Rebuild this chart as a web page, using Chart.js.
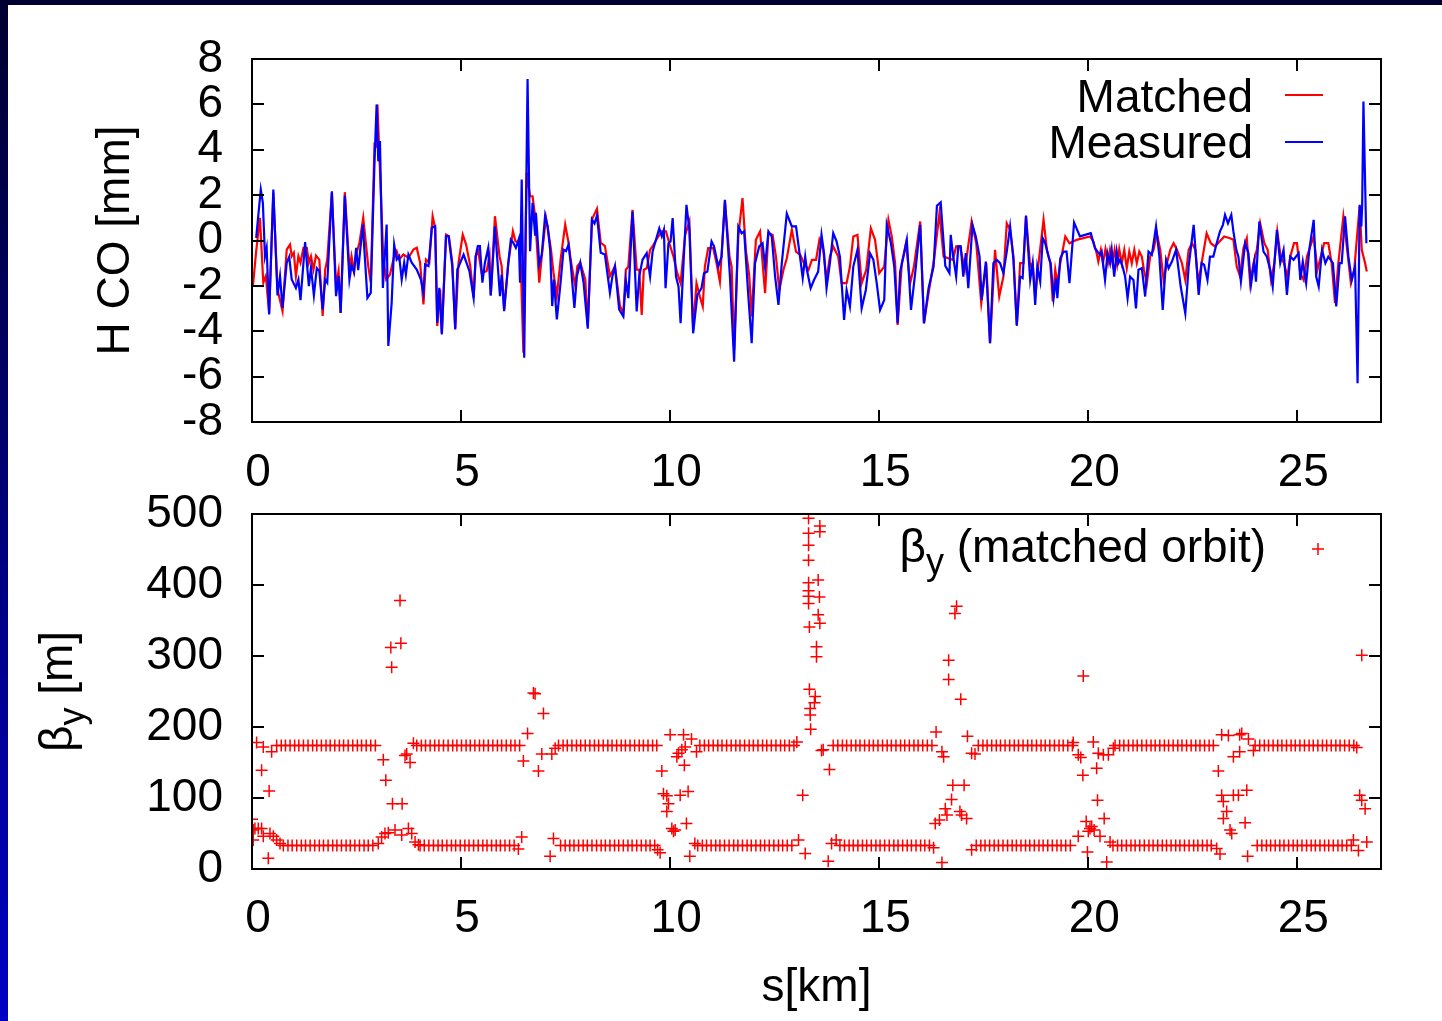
<!DOCTYPE html>
<html>
<head>
<meta charset="utf-8">
<title>Closed orbit and vertical beta function</title>
<script src="https://cdn.jsdelivr.net/npm/chart.js@4.4.0/dist/chart.umd.min.js"></script>
<style>
  html, body { margin: 0; padding: 0; }
  body {
    width: 1442px; height: 1021px; overflow: hidden; position: relative;
    background: linear-gradient(to bottom, #000030 0%, #000070 45%, #0000c4 100%);
  }
  #sheet { position: absolute; left: 8px; top: 5px; right: 0; bottom: 0; background: #fff; }
  canvas { position: absolute; left: 0; }
  #orbitChart { top: 0; }
  #betaChart { top: 450px; }
</style>
</head>
<body>
<div id="sheet"></div>
<canvas id="orbitChart" width="1442" height="500"></canvas>
<canvas id="betaChart" width="1442" height="571"></canvas>
<script>
// Horizontal closed orbit [s (km), CO (mm)]
const matchedOrbit = [
  [0.02,-2.04],[0.10,-0.47],[0.19,1.00],[0.27,-1.86],[0.33,-1.57],[0.41,-3.19],[0.51,2.10],[0.61,-2.16],[0.73,-3.11],[0.83,-0.40],
  [0.91,-0.18],[0.95,-0.69],[1.00,-0.54],[1.05,-1.57],[1.11,-0.69],[1.16,-0.98],[1.23,-0.32],[1.31,-0.32],[1.36,-0.98],[1.41,-0.69],
  [1.47,-1.28],[1.53,-0.66],[1.61,-0.84],[1.69,-3.33],[1.75,-1.28],[1.80,-0.84],[1.91,2.10],[2.01,-2.01],[2.07,-1.35],[2.12,-3.19],
  [2.22,2.13],[2.33,-1.28],[2.38,-0.69],[2.44,-1.35],[2.49,-0.62],[2.57,-0.10],[2.66,1.00],[2.78,-1.13],[2.84,-1.86],[2.93,4.23],
  [2.97,4.16],[3.00,5.99],[3.05,3.57],[3.14,-0.76],[3.21,-1.72],[3.30,-1.50],[3.40,-0.69],[3.46,-0.47],[3.52,-0.84],[3.62,-0.62],
  [3.74,-0.76],[3.86,-0.40],[3.94,-0.32],[4.02,-0.98],[4.10,-2.82],[4.16,-0.84],[4.24,-0.98],[4.32,1.07],[4.38,0.56],[4.43,-3.77],
  [4.50,-2.16],[4.54,-4.07],[4.64,0.26],[4.71,0.19],[4.79,-0.98],[4.86,-3.85],[4.94,-0.98],[5.04,0.26],[5.12,-0.18],[5.22,-1.13],
  [5.30,-2.53],[5.35,-0.69],[5.41,-0.47],[5.49,-1.42],[5.61,-1.35],[5.68,-0.69],[5.71,-2.42],[5.81,1.07],[5.92,-0.69],[5.97,-1.13],
  [6.03,-3.04],[6.13,-0.98],[6.24,0.41],[6.30,-0.03],[6.38,-0.10],[6.43,-1.13],[6.49,-4.95],[6.57,3.00],[6.65,1.95],[6.71,1.95],
  [6.77,1.07],[6.87,-1.86],[6.93,-0.69],[7.03,1.00],[7.09,0.34],[7.15,-0.40],[7.21,-1.42],[7.29,-2.45],[7.38,-0.84],[7.49,0.70],
  [7.57,-0.10],[7.62,-0.84],[7.73,-2.01],[7.78,-1.13],[7.85,-0.98],[7.97,-1.72],[8.03,-3.77],[8.13,0.93],[8.25,1.40],[8.34,-0.10],
  [8.44,-0.25],[8.56,-1.57],[8.68,-1.13],[8.80,-2.89],[8.88,-3.21],[8.94,-1.29],[9.00,-1.15],[9.10,1.35],[9.20,-1.29],[9.26,-1.29],
  [9.32,-3.28],[9.37,-1.29],[9.44,-1.22],[9.52,-0.41],[9.60,-0.19],[9.69,0.10],[9.80,0.40],[9.90,0.40],[9.98,-0.12],[10.08,-0.71],
  [10.17,-1.44],[10.25,-1.88],[10.36,0.25],[10.46,0.84],[10.55,-3.94],[10.63,-1.88],[10.71,-2.47],[10.78,-2.91],[10.83,-1.15],[10.91,-0.34],
  [11.03,-0.34],[11.11,-1.00],[11.19,-1.81],[11.31,1.72],[11.42,-0.71],[11.47,-1.15],[11.53,-4.82],[11.63,0.18],[11.73,1.87],[11.81,-0.41],
  [11.89,-1.51],[11.95,-3.35],[12.05,0.03],[12.15,0.40],[12.27,-2.32],[12.35,0.32],[12.45,0.25],[12.53,-0.71],[12.61,-2.18],[12.71,-1.29],
  [12.79,-0.78],[12.91,0.47],[13.01,-0.49],[13.11,-0.63],[13.20,-1.00],[13.31,-1.29],[13.39,-0.85],[13.49,-0.85],[13.57,0.03],[13.66,-0.41],
  [13.74,-1.74],[13.82,-0.71],[13.90,-0.26],[14.02,-0.71],[14.10,-1.88],[14.22,-1.88],[14.30,-1.15],[14.38,0.18],[14.48,0.25],[14.58,-1.88],
  [14.69,-1.29],[14.80,0.54],[14.90,0.03],[15.00,-1.44],[15.12,-1.15],[15.22,0.91],[15.30,0.18],[15.38,-1.00],[15.44,-3.72],[15.54,-1.00],
  [15.64,-0.12],[15.74,-1.88],[15.83,-1.15],[15.98,0.84],[16.07,-3.65],[16.18,-2.32],[16.31,-0.85],[16.44,1.21],[16.54,-0.71],[16.65,-0.78],
  [16.76,-0.85],[16.84,-0.26],[16.93,-0.26],[17.05,-1.29],[17.21,0.84],[17.32,-0.12],[17.44,-2.76],[17.56,-1.00],[17.65,-4.53],[17.77,-0.41],
  [17.87,-2.47],[17.97,-1.59],[18.05,0.76],[18.13,0.47],[18.21,-0.71],[18.29,-3.72],[18.37,-1.00],[18.45,-1.00],[18.51,1.06],[18.61,-1.15],
  [18.67,-1.00],[18.73,-2.47],[18.81,-1.00],[18.93,0.91],[19.01,-0.41],[19.09,-1.00],[19.15,-2.69],[19.21,-1.29],[19.26,-1.88],[19.33,-1.00],
  [19.45,0.18],[19.55,-0.12],[19.72,0.03],[20.04,0.18],[20.12,-0.04],[20.20,-0.56],[20.24,-0.93],[20.30,-0.41],[20.35,-1.00],[20.41,-0.38],
  [20.47,-1.00],[20.52,-0.41],[20.58,-1.00],[20.63,-0.41],[20.69,-1.07],[20.74,-0.38],[20.80,-1.00],[20.86,-0.41],[20.92,-1.22],[20.98,-0.49],
  [21.04,-1.00],[21.10,-0.41],[21.16,-1.00],[21.22,-0.49],[21.28,-0.71],[21.33,-1.29],[21.40,-1.88],[21.48,-0.71],[21.56,-0.41],[21.64,0.32],
  [21.72,-0.41],[21.80,-1.74],[21.88,-1.00],[21.96,-0.41],[22.04,-0.12],[22.12,-0.41],[22.24,-1.00],[22.32,-1.74],[22.40,-0.41],[22.48,-0.12],
  [22.56,-0.41],[22.63,-1.88],[22.71,-1.00],[22.83,0.32],[22.93,-0.12],[23.03,-0.26],[23.14,-0.04],[23.25,0.18],[23.39,0.10],[23.47,0.03],
  [23.55,-1.15],[23.63,-1.59],[23.71,-0.34],[23.79,0.10],[23.87,-1.88],[23.95,-1.00],[24.03,-0.41],[24.11,0.76],[24.21,-0.12],[24.29,-0.41],
  [24.37,-1.74],[24.45,-1.00],[24.52,0.40],[24.60,-0.71],[24.68,-1.00],[24.76,-1.59],[24.83,-0.71],[24.92,-0.12],[24.99,-0.12],[25.07,-1.44],
  [25.15,-1.74],[25.23,-0.71],[25.31,-0.26],[25.39,0.18],[25.48,-1.29],[25.56,-0.71],[25.64,-0.12],[25.74,-0.12],[25.82,-1.00],[25.90,-2.76],
  [25.98,-1.00],[26.10,1.06],[26.20,-0.56],[26.28,-1.88],[26.36,-1.29],[26.44,0.47],[26.49,1.50],[26.54,-0.41],[26.58,-0.71],[26.62,-1.00],
  [26.66,-1.37]
];

const measuredOrbit = [
  [0.10,0.12],[0.21,2.25],[0.26,1.66],[0.31,-0.69],[0.35,-0.32],[0.41,-3.26],[0.51,2.25],[0.61,-2.42],[0.67,-1.57],[0.73,-2.97],
  [0.83,-0.98],[0.89,-0.72],[0.95,-1.72],[1.05,-2.09],[1.11,-1.72],[1.16,-2.63],[1.27,-0.07],[1.36,-2.01],[1.41,-1.20],[1.48,-2.42],
  [1.55,-1.22],[1.61,-1.35],[1.69,-3.04],[1.75,-1.72],[1.80,-1.86],[1.91,2.17],[2.01,-2.45],[2.07,-1.57],[2.12,-3.19],[2.22,1.98],
  [2.33,-1.72],[2.38,-1.10],[2.44,-1.40],[2.49,-0.32],[2.54,-1.31],[2.65,0.70],[2.76,-2.53],[2.84,-2.31],[2.93,3.49],[2.98,5.99],
  [3.02,3.49],[3.06,4.38],[3.13,-2.09],[3.22,0.70],[3.26,-4.65],[3.34,-2.75],[3.40,-0.18],[3.46,-0.84],[3.52,-0.69],[3.58,-1.72],
  [3.64,-0.98],[3.68,-1.50],[3.74,-0.62],[3.82,-0.98],[3.94,-1.28],[4.04,-1.72],[4.10,-2.31],[4.14,-1.06],[4.22,-1.13],[4.30,0.56],
  [4.38,0.63],[4.43,-3.63],[4.48,-2.09],[4.54,-4.14],[4.64,0.19],[4.70,0.19],[4.79,-1.13],[4.86,-3.92],[4.91,-1.28],[4.98,-0.98],
  [5.06,-0.62],[5.20,-1.35],[5.30,-2.53],[5.35,-0.69],[5.40,-0.25],[5.45,-0.25],[5.51,-1.86],[5.57,-0.98],[5.65,-0.32],[5.71,-2.42],
  [5.81,0.63],[5.93,-2.45],[5.97,-1.50],[6.03,-3.11],[6.13,-0.98],[6.19,0.04],[6.25,-0.10],[6.31,-0.32],[6.38,0.07],[6.41,-1.86],
  [6.45,2.69],[6.51,-5.17],[6.59,7.12],[6.65,-0.47],[6.71,1.66],[6.77,0.26],[6.79,1.22],[6.87,-1.06],[6.93,-0.62],[7.01,1.10],
  [7.07,0.63],[7.13,-0.40],[7.18,-2.89],[7.22,-1.72],[7.29,-3.48],[7.38,-1.86],[7.45,-0.40],[7.51,-0.47],[7.57,-0.18],[7.62,-0.98],
  [7.71,-2.97],[7.77,-1.57],[7.85,-0.98],[7.93,-1.86],[8.03,-3.89],[8.13,0.93],[8.19,0.75],[8.25,1.10],[8.34,-0.54],[8.44,-0.62],
  [8.56,-2.31],[8.62,-1.57],[8.68,-1.13],[8.78,-3.04],[8.88,-3.35],[8.94,-1.74],[9.00,-2.54],[9.10,1.28],[9.20,-3.13],[9.26,-1.59],
  [9.34,-0.85],[9.44,-0.56],[9.52,-1.59],[9.58,-0.49],[9.66,0.03],[9.74,0.54],[9.80,0.18],[9.85,0.47],[9.89,-2.10],[9.96,-0.12],
  [10.01,-0.04],[10.06,0.99],[10.14,-1.59],[10.20,-2.03],[10.25,-3.65],[10.32,-1.00],[10.39,1.57],[10.46,0.47],[10.55,-4.09],[10.65,-2.40],
  [10.75,-2.10],[10.81,-1.44],[10.89,-1.37],[10.99,-0.04],[11.05,-0.26],[11.15,-1.15],[11.23,-0.71],[11.31,1.79],[11.43,-1.59],[11.53,-5.34],
  [11.63,0.62],[11.71,0.32],[11.77,0.40],[11.87,-2.47],[11.95,-4.53],[12.03,-1.00],[12.13,-0.26],[12.21,-0.12],[12.27,-1.15],[12.35,0.40],
  [12.43,0.18],[12.51,-1.59],[12.59,-2.84],[12.67,-1.00],[12.79,1.18],[12.91,0.62],[13.01,0.62],[13.11,-0.78],[13.17,-1.66],[13.23,-0.71],
  [13.27,-1.29],[13.36,-2.10],[13.44,-1.74],[13.54,-1.37],[13.62,0.25],[13.68,-0.56],[13.74,-2.10],[13.82,-1.00],[13.90,0.32],[13.98,-0.04],
  [14.06,-0.71],[14.16,-3.50],[14.22,-2.18],[14.30,-2.91],[14.38,-1.15],[14.48,-0.41],[14.58,-2.99],[14.68,-2.18],[14.78,-0.56],[14.86,-0.85],
  [14.94,-1.88],[15.02,-3.06],[15.12,-2.62],[15.18,0.69],[15.28,-0.12],[15.36,-1.15],[15.44,-3.65],[15.50,-1.37],[15.58,-0.71],[15.66,0.03],
  [15.76,-3.06],[15.86,-1.44],[15.98,0.69],[16.07,-3.65],[16.18,-2.10],[16.30,-1.15],[16.38,1.53],[16.47,1.68],[16.58,-1.12],[16.68,-1.44],
  [16.71,0.25],[16.77,-0.71],[16.84,-1.59],[16.89,-0.26],[16.95,-0.26],[17.01,-1.59],[17.07,-0.56],[17.13,-2.10],[17.23,0.69],[17.31,0.18],
  [17.40,-0.71],[17.45,-2.62],[17.55,-0.93],[17.65,-4.53],[17.73,-1.00],[17.81,-0.85],[17.89,-1.00],[17.97,-1.44],[18.05,-0.49],[18.13,0.62],
  [18.21,-0.85],[18.29,-3.76],[18.37,-1.59],[18.43,-1.66],[18.51,1.10],[18.61,-1.74],[18.67,-1.00],[18.73,-2.84],[18.78,-1.15],[18.85,-1.81],
  [18.91,0.10],[18.97,-0.12],[19.05,-0.71],[19.10,-1.00],[19.17,-2.54],[19.23,-1.66],[19.26,-2.54],[19.33,-0.78],[19.41,-0.49],[19.48,-0.49],
  [19.55,-1.88],[19.66,0.79],[19.80,0.18],[20.06,0.32],[20.16,-0.34],[20.22,-0.49],[20.28,-0.63],[20.32,-0.49],[20.40,-1.74],[20.46,-0.56],
  [20.52,-1.00],[20.56,-0.41],[20.62,-1.59],[20.68,-0.49],[20.72,-1.00],[20.76,-0.85],[20.82,-1.15],[20.88,-1.59],[20.94,-2.54],[21.00,-1.59],
  [21.08,-1.74],[21.14,-2.99],[21.20,-1.29],[21.28,-1.22],[21.36,-2.47],[21.44,-0.49],[21.52,-0.63],[21.62,0.62],[21.70,-0.71],[21.78,-3.06],
  [21.86,-0.85],[21.92,-1.22],[22.00,-0.93],[22.10,-0.41],[22.21,-2.03],[22.32,-3.21],[22.40,-1.15],[22.52,0.69],[22.64,-2.40],[22.71,-1.00],
  [22.77,-1.07],[22.85,-1.74],[22.91,-0.71],[22.99,-0.71],[23.07,-0.12],[23.15,0.40],[23.22,0.69],[23.27,1.13],[23.34,0.76],[23.42,1.13],
  [23.47,0.40],[23.54,-0.41],[23.59,-0.71],[23.65,-1.81],[23.75,-0.12],[23.83,-0.56],[23.89,-1.96],[23.97,-0.93],[24.01,-1.81],[24.09,0.84],
  [24.19,-0.49],[24.27,-0.71],[24.35,-1.29],[24.41,-2.03],[24.51,0.47],[24.59,-1.00],[24.67,-0.41],[24.75,-2.40],[24.83,-0.71],[24.91,-0.85],
  [25.03,-0.56],[25.07,-1.74],[25.13,-0.93],[25.21,-1.88],[25.29,-0.34],[25.39,0.91],[25.45,-1.59],[25.51,-2.03],[25.59,-0.41],[25.67,-1.00],
  [25.74,-0.71],[25.85,-1.00],[25.93,-2.91],[26.01,-1.00],[26.06,-1.00],[26.14,1.06],[26.22,-0.71],[26.30,-1.74],[26.38,-1.15],[26.44,-6.29],
  [26.49,1.57],[26.53,0.62],[26.55,1.57],[26.58,6.13],[26.65,-0.12]
];

// Vertical beta function: arc BPMs sit on two flat levels (km positions)
const arcHighS = [
  0.59,0.70,0.80,0.91,1.02,1.12,1.23,1.34,1.45,1.55,1.66,1.77,1.87,1.98,2.09,2.19,2.30,2.41,2.52,2.62,2.73,2.84,2.95,
  3.94,4.05,4.15,4.26,4.37,4.47,4.58,4.69,4.80,4.90,5.01,5.12,5.22,5.33,5.44,5.54,5.65,5.76,5.87,5.97,6.08,6.19,6.29,6.40,
  7.33,7.44,7.54,7.65,7.76,7.86,7.97,8.08,8.19,8.29,8.40,8.51,8.61,8.72,8.83,8.93,9.04,9.15,9.26,9.36,9.47,9.58,9.68,
  10.71,10.82,10.92,11.03,11.14,11.24,11.35,11.46,11.57,11.67,11.78,11.89,11.99,12.10,12.21,12.31,12.42,12.53,12.64,12.74,12.85,12.96,
  13.90,14.01,14.12,14.22,14.33,14.44,14.54,14.65,14.76,14.86,14.97,15.08,15.19,15.29,15.40,15.51,15.61,15.72,15.83,15.93,16.04,16.15,16.26,
  17.37,17.48,17.58,17.69,17.80,17.90,18.01,18.12,18.23,18.33,18.44,18.55,18.65,18.76,18.87,18.97,19.08,19.19,19.30,19.40,19.51,19.62,
  20.64,20.75,20.85,20.96,21.07,21.17,21.28,21.39,21.50,21.60,21.71,21.82,21.92,22.03,22.14,22.24,22.35,22.46,22.57,22.67,22.78,22.89,22.99,
  23.99,24.10,24.21,24.31,24.42,24.53,24.63,24.74,24.85,24.95,25.06,25.17,25.28,25.38,25.49,25.60,25.70,25.81,25.92,26.02,26.13,26.24,26.35
];
const arcLowS = [
  0.75,0.86,0.96,1.07,1.18,1.28,1.39,1.50,1.61,1.71,1.82,1.93,2.03,2.14,2.25,2.35,2.46,2.57,2.68,2.78,2.89,
  4.02,4.12,4.23,4.34,4.45,4.55,4.66,4.77,4.87,4.98,5.09,5.19,5.30,5.41,5.52,5.62,5.73,5.84,5.94,6.05,6.16,6.27,
  7.38,7.49,7.60,7.70,7.81,7.92,8.02,8.13,8.24,8.35,8.45,8.56,8.67,8.77,8.88,8.99,9.09,9.20,9.31,9.42,9.52,9.63,
  10.66,10.77,10.87,10.98,11.09,11.19,11.30,11.41,11.52,11.62,11.73,11.84,11.94,12.05,12.16,12.26,12.37,12.48,12.59,12.69,12.80,12.91,
  14.06,14.17,14.28,14.38,14.49,14.60,14.70,14.81,14.92,15.02,15.13,15.24,15.35,15.45,15.56,15.67,15.77,15.88,15.99,16.09,16.20,
  17.32,17.43,17.53,17.64,17.75,17.85,17.96,18.07,18.18,18.28,18.39,18.50,18.60,18.71,18.82,18.92,19.03,19.14,19.25,19.35,19.46,19.57,
  20.59,20.70,20.80,20.91,21.02,21.12,21.23,21.34,21.45,21.55,21.66,21.77,21.87,21.98,22.09,22.19,22.30,22.41,22.52,22.62,22.73,22.84,22.94,
  24.04,24.15,24.26,24.36,24.47,24.58,24.68,24.79,24.90,25.00,25.11,25.22,25.33,25.43,25.54,25.65,25.75,25.86,25.97,26.07,26.18,26.29
];
const betaArcHigh = 174;
const betaArcLow = 33;

// BPMs in the straight sections [s (km), beta_y (m)]
const insertionBeta = [
  [0.00,70],[0.03,55],[0.07,57],[0.15,57],[0.23,57],[0.03,41],[0.27,46],[0.39,15],[0.43,50],[0.51,46],[0.59,41],[0.67,36],
  [0.11,178],[0.27,172],[0.47,165],[0.23,139],[0.41,110],
  [3.02,36],[3.10,45],[3.18,50],[3.26,51],[3.42,55],[3.58,48],[3.74,57],[3.82,50],[3.90,38],[3.98,34],
  [3.14,154],[3.20,125],[3.32,312],[3.34,284],[3.54,378],[3.56,318],[3.36,92],[3.59,92],[3.66,160],[3.70,162],[3.78,150],[3.86,177],
  [6.37,28],[6.45,45],[6.49,152],[6.59,191],[6.73,248],[6.77,247],[6.97,219],[6.85,138],[6.93,162],[7.13,18],[7.17,162],[7.21,43],[7.25,170],
  [9.70,27],[9.76,23],[9.80,138],[9.84,106],[9.92,103],[9.96,92],[9.92,81],[10.00,189],[10.04,57],[10.08,53],[10.12,55],[10.16,158],
  [10.20,163],[10.24,104],[10.28,168],[10.32,189],[10.34,146],[10.36,172],[10.39,64],[10.43,109],[10.47,18],[10.51,183],[10.59,36],[10.63,165],
  [13.03,179],[13.07,41],[13.17,104],[13.23,22],[13.31,494],[13.31,473],[13.31,456],[13.31,435],[13.58,483],[13.58,475],[13.31,403],
  [13.31,392],[13.31,384],[13.31,374],[13.54,407],[13.57,383],[13.54,358],[13.58,346],[13.33,341],[13.50,313],[13.50,299],[13.33,253],
  [13.47,243],[13.45,234],[13.35,226],[13.35,217],[13.36,197],[13.62,167],[13.66,168],[13.81,140],[13.78,11],[13.86,36],[13.97,41],
  [16.30,30],[16.34,64],[16.36,193],[16.44,69],[16.50,9],[16.50,165],[16.54,158],[16.58,85],[16.62,76],[16.66,294],[16.66,267],[16.73,98],
  [16.76,118],[16.81,360],[16.85,370],[16.93,81],[16.95,239],[16.97,76],[17.03,118],[17.09,71],[17.11,187],[17.21,163],[17.21,27],[17.29,162],
  [19.64,178],[19.76,161],[19.76,46],[19.82,157],[19.87,132],[19.88,272],[19.95,67],[19.98,24],[20.00,53],[20.04,57],[20.08,60],[20.12,179],
  [20.14,55],[20.20,142],[20.22,97],[20.24,163],[20.28,46],[20.36,161],[20.38,71],[20.44,10],[20.48,161],[20.52,38],[20.60,170],
  [23.07,29],[23.11,138],[23.15,21],[23.19,104],[23.19,189],[23.23,95],[23.23,71],[23.31,81],[23.35,188],[23.39,55],[23.43,50],[23.47,158],
  [23.47,104],[23.59,104],[23.62,189],[23.62,165],[23.67,191],[23.75,65],[23.79,111],[23.81,18],[23.83,183],[23.95,167],
  [26.34,41],[26.42,171],[26.46,26],[26.49,104],[26.54,97],[26.54,301],[26.62,85],[26.66,38]
];

// Tick values
const sTicks = [0, 5, 10, 15, 20, 25];
const coTicks = [-8, -6, -4, -2, 0, 2, 4, 6, 8];
const betaTicks = [0, 100, 200, 300, 400, 500];

const FONT = "'Liberation Sans', Arial, Helvetica, sans-serif";
const tickFont = { family: FONT, size: 46 };
const MARK_R = 6;

// gnuplot-like box: border plus inward ticks mirrored on all four sides
const boxFrame = {
    id: 'boxFrame',
    afterDatasetsDraw(chart) {
        const { ctx, chartArea: a, scales: { x, y } } = chart;
        const len = 12;
        ctx.save();
        ctx.strokeStyle = '#000';
        ctx.lineWidth = 2;
        ctx.beginPath();
        x.ticks.forEach(t => {
            const px = Math.round(x.getPixelForValue(t.value));
            ctx.moveTo(px, a.bottom); ctx.lineTo(px, a.bottom - len);
            ctx.moveTo(px, a.top); ctx.lineTo(px, a.top + len);
        });
        y.ticks.forEach(t => {
            const py = Math.round(y.getPixelForValue(t.value));
            ctx.moveTo(a.left, py); ctx.lineTo(a.left + len, py);
            ctx.moveTo(a.right, py); ctx.lineTo(a.right - len, py);
        });
        ctx.stroke();
        ctx.strokeRect(a.left, a.top, a.right - a.left, a.bottom - a.top);
        ctx.restore();
    }
};

// Draws "β" with a subscript "y" followed by the rest of the label
function drawBetaText(ctx, x0, base, rest) {
    ctx.font = `46px ${FONT}`;
    const wb = ctx.measureText('β').width;
    const wr = ctx.measureText(rest).width;
    ctx.font = `36px ${FONT}`;
    const wy = ctx.measureText('y').width;
    const total = wb + wy + wr;
    const start = x0 === null ? -total / 2 : x0 - total;
    ctx.textAlign = 'left';
    ctx.textBaseline = 'alphabetic';
    ctx.fillStyle = '#000';
    ctx.font = `46px ${FONT}`;
    ctx.fillText('β', start, base);
    ctx.font = `36px ${FONT}`;
    ctx.fillText('y', start + wb, base + 12);
    ctx.font = `46px ${FONT}`;
    ctx.fillText(rest, start + wb + wy, base);
}

function drawPlus(ctx, x, y, r) {
    ctx.beginPath();
    ctx.moveTo(x - r, y); ctx.lineTo(x + r, y);
    ctx.moveTo(x, y - r); ctx.lineTo(x, y + r);
    ctx.stroke();
}

const orbitLegend = {
    id: 'orbitLegend',
    afterDraw(chart) {
        const ctx = chart.ctx;
        const rows = [
            { text: 'Matched', color: '#ff0000', base: 112, lineY: 95 },
            { text: 'Measured', color: '#0000ff', base: 158, lineY: 142 }
        ];
        ctx.save();
        ctx.font = `46px ${FONT}`;
        ctx.textAlign = 'right';
        ctx.textBaseline = 'alphabetic';
        rows.forEach(r => {
            ctx.fillStyle = '#000';
            ctx.fillText(r.text, 1253, r.base);
            ctx.strokeStyle = r.color;
            ctx.lineWidth = 2;
            ctx.beginPath();
            ctx.moveTo(1285, r.lineY);
            ctx.lineTo(1323, r.lineY);
            ctx.stroke();
        });
        ctx.restore();
    }
};

const betaDecor = {
    id: 'betaDecor',
    afterDraw(chart) {
        const { ctx, chartArea: a } = chart;
        ctx.save();
        // legend entry
        drawBetaText(ctx, 1266, 112, ' (matched orbit)');
        ctx.strokeStyle = '#ff0000';
        ctx.lineWidth = 1.5;
        drawPlus(ctx, 1318, 99, MARK_R);
        // rotated y-axis title
        ctx.translate(72, (a.top + a.bottom) / 2);
        ctx.rotate(-Math.PI / 2);
        drawBetaText(ctx, null, 0, ' [m]');
        ctx.restore();
    }
};

function sAxis(labelPad, height, title) {
    return {
        type: 'linear',
        min: 0,
        max: 27,
        afterBuildTicks: s => { s.ticks = sTicks.map(v => ({ value: v })); },
        afterFit: s => { s.height = height; },
        grid: { display: false, drawTicks: false },
        border: { display: false },
        ticks: { font: tickFont, color: '#000', padding: labelPad, labelOffset: 6, maxRotation: 0, autoSkip: false },
        title: title
    };
}

function valueAxis(min, max, tickValues, title) {
    return {
        min: min,
        max: max,
        afterBuildTicks: s => { s.ticks = tickValues.map(v => ({ value: v })); },
        afterFit: s => { s.width = 252; },
        grid: { display: false, drawTicks: false },
        border: { display: false },
        ticks: { font: tickFont, color: '#000', padding: 29, autoSkip: false },
        title: title
    };
}

new Chart(document.getElementById('orbitChart'), {
    type: 'line',
    data: {
        datasets: [
            {
                label: 'Matched',
                data: matchedOrbit.map(p => ({ x: p[0], y: p[1] })),
                borderColor: '#ff0000',
                borderWidth: 2.2,
                pointRadius: 0,
                tension: 0,
                order: 1
            },
            {
                label: 'Measured',
                data: measuredOrbit.map(p => ({ x: p[0], y: p[1] })),
                borderColor: '#0000ff',
                borderWidth: 2.2,
                pointRadius: 0,
                tension: 0,
                order: 0
            }
        ]
    },
    options: {
        responsive: false,
        animation: false,
        layout: { padding: { left: 0, top: 59, right: 61, bottom: 0 } },
        plugins: { legend: { display: false }, tooltip: { enabled: false } },
        scales: {
            x: sAxis(24, 78, { display: false }),
            y: valueAxis(-8, 8, coTicks, {
                display: true,
                text: 'H CO [mm]',
                color: '#000',
                font: { family: FONT, size: 46 },
                padding: { top: 89, bottom: 0 }
            })
        }
    },
    plugins: [boxFrame, orbitLegend]
});

const betaPoints = arcHighS.map(s => ({ x: s, y: betaArcHigh }))
    .concat(arcLowS.map(s => ({ x: s, y: betaArcLow })))
    .concat(insertionBeta.map(p => ({ x: p[0], y: p[1] })));

new Chart(document.getElementById('betaChart'), {
    type: 'scatter',
    data: {
        datasets: [{
            label: 'βy (matched orbit)',
            data: betaPoints,
            pointStyle: 'cross',
            pointRadius: MARK_R,
            borderColor: '#ff0000',
            backgroundColor: '#ff0000',
            borderWidth: 1.5
        }]
    },
    options: {
        responsive: false,
        animation: false,
        layout: { padding: { left: 0, top: 64, right: 61, bottom: 0 } },
        plugins: { legend: { display: false }, tooltip: { enabled: false } },
        scales: {
            x: sAxis(23, 152, {
                display: true,
                text: 's[km]',
                color: '#000',
                font: { family: FONT, size: 46 },
                padding: { top: 0, bottom: 5 }
            }),
            y: valueAxis(0, 500, betaTicks, { display: false })
        }
    },
    plugins: [boxFrame, betaDecor]
});
</script>
</body>
</html>
